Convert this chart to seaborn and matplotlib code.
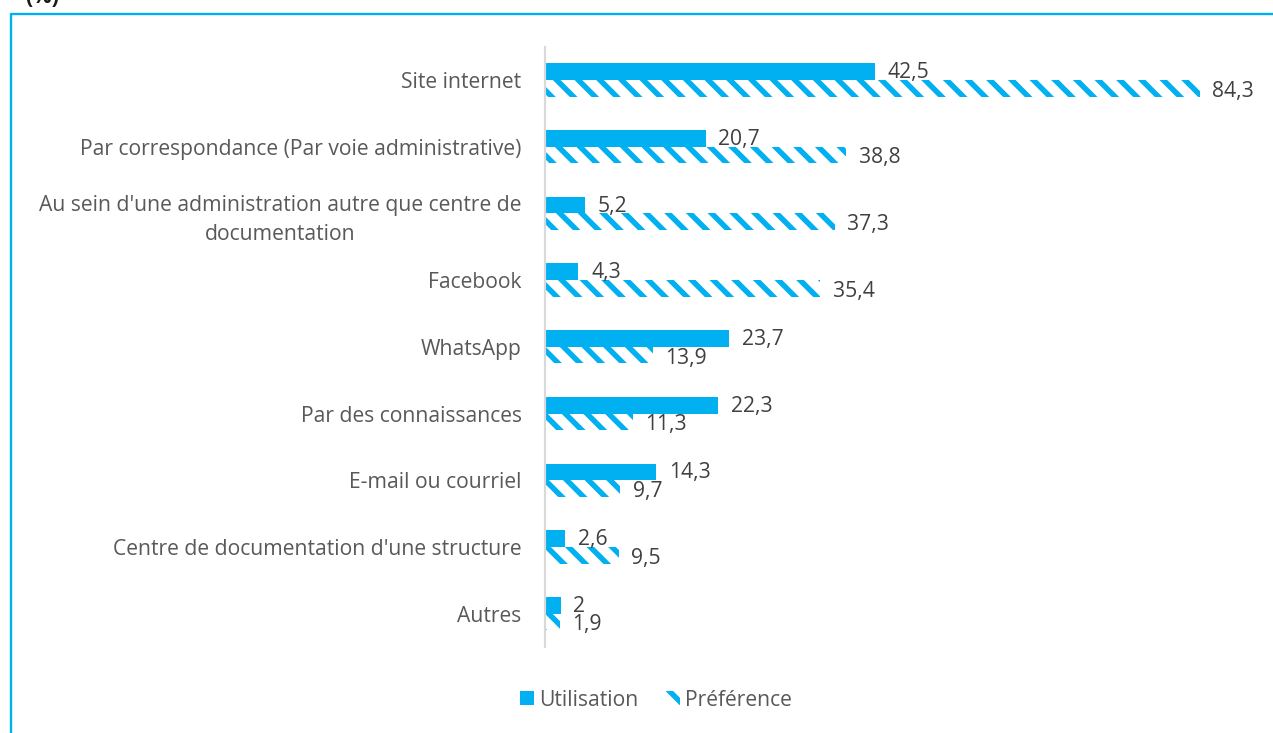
import pandas as pd
import seaborn as sns
import matplotlib.pyplot as plt
from matplotlib.patches import Patch
from matplotlib.lines import Line2D

# === Data ===
categories = [
    "Site internet",
    "Par correspondance (Par voie administrative)",
    "Au sein d'une administration autre que centre de\ndocumentation",
    "Facebook",
    "WhatsApp",
    "Par des connaissances",
    "E-mail ou courriel",
    "Centre de documentation d'une structure",
    "Autres",
]
utilisation = [42.5, 20.7, 5.2, 4.3, 23.7, 22.3, 14.3, 2.6, 2]
preference = [84.3, 38.8, 37.3, 35.4, 13.9, 11.3, 9.7, 9.5, 1.9]
series_names = ["Utilisation", "Préférence"]

df = pd.DataFrame({
    "categorie": categories * 2,
    "valeur": utilisation + preference,
    "serie": [series_names[0]] * len(categories) + [series_names[1]] * len(categories),
})

# === Style ===
BLUE = "#00B0F0"
FS = 11.7
sns.set_theme(style="white")
plt.rcParams["font.family"] = ["Open Sans", "DejaVu Sans"]
plt.rcParams["hatch.linewidth"] = 3.0

DPI = 130
fig = plt.figure(figsize=(1273 / DPI, 733 / DPI), dpi=DPI)
ax = fig.add_axes([545 / 1273, 1 - 647 / 733, 699 / 1273, (647 - 46.6) / 733])

sns.barplot(data=df, y="categorie", x="valeur", hue="serie", order=categories,
            hue_order=series_names, orient="h", width=0.5, ax=ax,
            palette=[BLUE, BLUE], saturation=1, legend=False)

# hatched "Préférence" bars
for p in ax.containers[1]:
    p.set_facecolor("white")
    p.set_edgecolor(BLUE)
    p.set_linewidth(0)
    p.set_hatch("\\\\")
for p in ax.containers[0]:
    p.set_linewidth(0)

# value labels (slightly below bar centre, as in the original)
for cont, vals, dy in zip(ax.containers, [utilisation, preference], [-0.6, -1.6]):
    for p, v in zip(cont, vals):
        ax.annotate(f"{v:g}".replace(".", ","),
                    xy=(p.get_x() + p.get_width(), p.get_y() + p.get_height() / 2),
                    xytext=(7, dy), textcoords="offset points",
                    ha="left", va="center", fontsize=FS, color="#404040")

ax.set_xlim(0, 90)
ax.set_ylim(8.5, -0.5)
ax.set_xlabel("")
ax.set_ylabel("")
ax.set_xticks([])
ax.tick_params(axis="y", length=0, pad=13, labelsize=FS, labelcolor="#595959")
for lab in ax.get_yticklabels():
    lab.set_multialignment("center")
    lab.set_linespacing(1.5)
for s in ["top", "right", "bottom"]:
    ax.spines[s].set_visible(False)
ax.spines["left"].set_color("#D9D9D9")
ax.spines["left"].set_linewidth(1.2)

# legend
handles = [Patch(facecolor=BLUE, edgecolor=BLUE, linewidth=0),
           Patch(facecolor="white", edgecolor=BLUE, linewidth=0, hatch="\\\\")]
fig.legend(handles, series_names, loc="center", bbox_to_anchor=(656 / 1273, 1 - 700 / 733),
           ncol=2, frameon=False, fontsize=FS, labelcolor="#595959",
           handlelength=0.65, handleheight=0.65, handletextpad=0.25, columnspacing=1.3)

# frame and cut-off title
fig.add_artist(Line2D([11 / 1273, 1], [1 - 14 / 733, 1 - 14 / 733], color=BLUE, lw=1.3,
                      transform=fig.transFigure))
fig.add_artist(Line2D([11 / 1273, 11 / 1273], [0, 1 - 14 / 733], color=BLUE, lw=1.3,
                      transform=fig.transFigure))
fig.text(25 / 1273, 1 - 3 / 733, "(%)", fontsize=12, fontweight="bold", color="#1a1a1a",
         va="baseline", ha="left")

fig.savefig("out.png", dpi=DPI, facecolor="white")
